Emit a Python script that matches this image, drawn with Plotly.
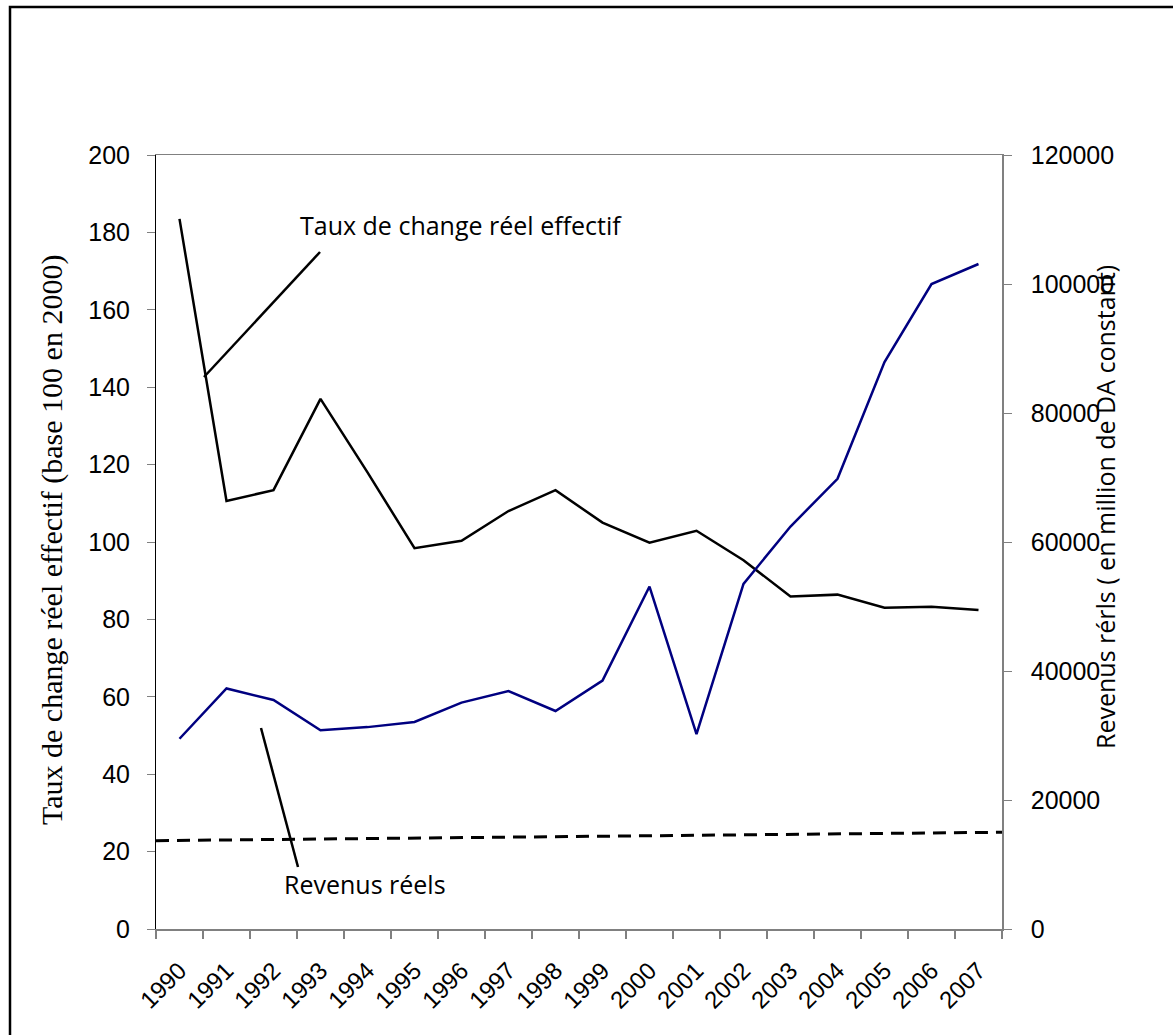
import plotly.graph_objects as go

annees = [str(a) for a in range(1990, 2008)]
taux_change = [183.5, 110.6, 113.4, 137.0, 118.0, 98.4, 100.3, 108.0, 113.4, 105.0,
               99.8, 102.9, 95.3, 85.9, 86.4, 83.0, 83.3, 82.4]
revenus = [29500, 37300, 35500, 30800, 31300, 32100, 35100, 36900, 33800, 38500,
           53100, 30200, 53500, 62400, 69800, 87900, 100000, 103100]
tendance_x = [0, 1]
tendance = [13700, 15000]

W, H = 1173, 1035
L, R, T, B = 156, 1002, 155, 929
pw, ph = R - L, B - T
def px(x): return (x - L) / pw
def py(y): return (B - y) / ph

GRAY = "#808080"
fig = go.Figure()
fig.add_trace(go.Scatter(x=annees, y=taux_change, mode="lines",
                         line=dict(color="black", width=2.5), xaxis="x", yaxis="y",
                         showlegend=False))
fig.add_trace(go.Scatter(x=annees, y=revenus, mode="lines",
                         line=dict(color="#000080", width=2.5), xaxis="x", yaxis="y2",
                         showlegend=False))
fig.add_trace(go.Scatter(x=tendance_x, y=tendance, mode="lines",
                         line=dict(color="black", width=3, dash="13px,8px"),
                         xaxis="x2", yaxis="y2", showlegend=False))

tickfont = dict(family="Liberation Sans", size=25, color="black")
fig.update_layout(
    width=W, height=H, autosize=False,
    margin=dict(l=L, r=W - R, t=T, b=H - B, pad=0),
    paper_bgcolor="white", plot_bgcolor="white",
    xaxis=dict(type="category", categoryorder="array", categoryarray=annees,
               range=[-0.5, 17.5], tickson="boundaries", ticks="outside", ticklen=8,
               tickwidth=2, tickcolor=GRAY, showline=True, linecolor=GRAY, linewidth=2,
               tickangle=-45, tickfont=dict(family="Liberation Sans", size=24, color="black"),
               showgrid=False, zeroline=False, anchor="y", ticklabelstandoff=16),
    xaxis2=dict(overlaying="x", side="top", range=[0, 1], showline=True, linecolor=GRAY,
                linewidth=1, ticks="", showticklabels=False, showgrid=False, zeroline=False,
                anchor="y"),
    xaxis3=dict(overlaying="x", range=[0, 18], tickvals=list(range(19)), ticks="inside",
                ticklen=8, tickwidth=2, tickcolor=GRAY, showticklabels=False, showline=False,
                showgrid=False, zeroline=False, anchor="y"),
    yaxis=dict(range=[0, 200], tickvals=list(range(0, 201, 20)), ticks="outside", ticklen=8,
               tickcolor=GRAY, tickwidth=1, showline=True, linecolor="black", linewidth=1,
               tickfont=tickfont, showgrid=False, zeroline=False, ticklabelstandoff=12),
    yaxis2=dict(overlaying="y", side="right", range=[0, 120000],
                tickvals=list(range(0, 120001, 20000)), tickformat="d", ticks="outside", ticklen=8,
                tickcolor=GRAY, tickwidth=1, showline=True, linecolor=GRAY, linewidth=1.5,
                tickfont=tickfont, showgrid=False, zeroline=False, ticklabelstandoff=14,
                anchor="x"),
    yaxis3=dict(overlaying="y", side="right", range=[0, 120000],
                tickvals=list(range(0, 120001, 20000)), ticks="inside", ticklen=8,
                tickcolor=GRAY, tickwidth=1, showticklabels=False, showline=False,
                showgrid=False, zeroline=False, anchor="x"),
)

fig.add_annotation(text="Taux de change réel effectif (base 100 en 2000)", xref="paper", yref="paper",
                   x=px(52), y=py(540), xanchor="center", yanchor="middle", textangle=-90,
                   showarrow=False,
                   font=dict(family="Liberation Serif", size=30, color="black"))
fig.add_annotation(text="Revenus rérls ( en million de DA constant)", xref="paper", yref="paper",
                   x=px(1105), y=py(507), xanchor="center", yanchor="middle", textangle=-90,
                   showarrow=False,
                   font=dict(family="Open Sans", size=25, color="black"))
fig.add_annotation(text="Taux de change réel effectif", xref="paper", yref="paper",
                   x=px(298), y=py(225), xanchor="left", yanchor="middle", showarrow=False,
                   font=dict(family="Open Sans", size=25, color="black"))
fig.add_annotation(text="Revenus réels", xref="paper", yref="paper",
                   x=px(282), y=py(884), xanchor="left", yanchor="middle", showarrow=False,
                   font=dict(family="Open Sans", size=25, color="black"))

fig.add_shape(type="line", xref="paper", yref="paper", x0=px(320), y0=py(252), x1=px(204), y1=py(377),
              line=dict(color="black", width=2.5))
fig.add_shape(type="line", xref="paper", yref="paper", x0=px(261), y0=py(728), x1=px(298), y1=py(867),
              line=dict(color="black", width=2.5))
fig.add_shape(type="rect", xref="paper", yref="paper", x0=px(10), y0=py(1100), x1=px(1250), y1=py(7),
              line=dict(color="black", width=2.5), fillcolor="rgba(0,0,0,0)", layer="below")

fig.write_html("out.html")
